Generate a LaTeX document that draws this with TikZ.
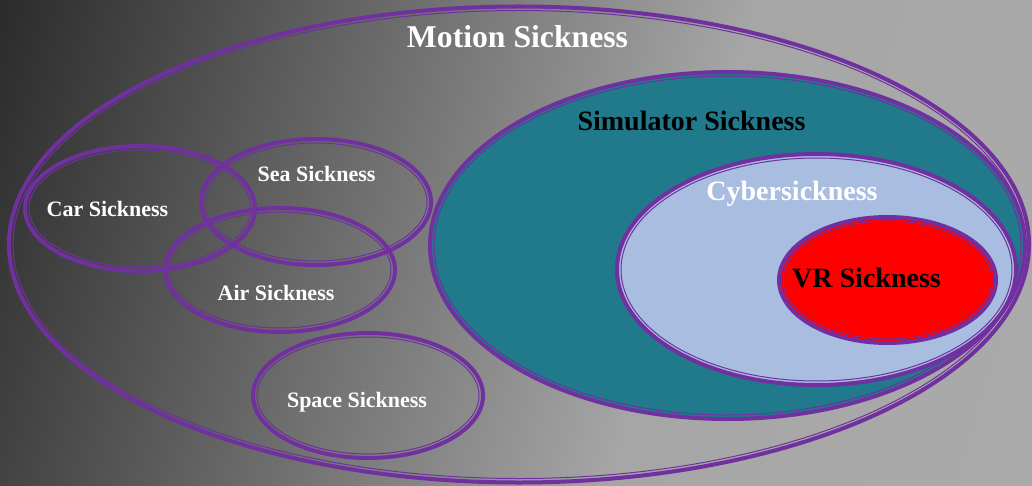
\documentclass[tikz,border=0pt]{standalone}
\usepackage{fontspec}
\setmainfont{Liberation Serif}
\usetikzlibrary{shapes.geometric}

\definecolor{ringviolet}{HTML}{7030A0}
\definecolor{simteal}{HTML}{217A8C}
\definecolor{cyberblue}{HTML}{A9BDE0}
\definecolor{vrred}{HTML}{FF0000}
\definecolor{bgdark}{HTML}{2B2B2B}
\definecolor{bgmid}{HTML}{666666}
\definecolor{bgpale}{HTML}{A6A6A6}
\definecolor{bglight}{HTML}{ABABAB}

% TikZ stretches the 25bp--75bp band of a shading over the filled path;
% here that band spans u = -50 .. 1200 of the tilted backdrop strip
\pgfdeclarehorizontalshading{bgshade}{100bp}{%
  color(0bp)=(bgdark); color(27bp)=(bgdark); color(41bp)=(bgmid);
  color(56bp)=(bgpale); color(75bp)=(bglight); color(100bp)=(bglight)}

\tikzset{
  ring/.style={ellipse, draw=ringviolet, line width=4pt, inner sep=0pt, outer sep=0pt},
  ringin/.style={draw=ringviolet, line width=1pt},
  lbl/.style={font=\bfseries, anchor=base, inner sep=0pt},
  small/.style={lbl, text=white, font=\bfseries\fontsize{22}{26}\selectfont},
  big/.style={lbl, font=\bfseries\fontsize{28}{33}\selectfont},
}

% #1 name, #2 x, #3 y, #4 outer x radius, #5 outer y radius, #6 fill
\newcommand\ringnode[6]{%
  \node[ring, fill=#6, minimum width={2*#4pt-4pt}, minimum height={2*#5pt-4pt}] (#1) at (#2,#3) {};
  \draw[ringin] (#1.center) ellipse [x radius={#4pt-6pt}, y radius={#5pt-6pt}];
}

\begin{document}
\begin{tikzpicture}[x=1pt, y=-1pt]
  \useasboundingbox (0,0) rectangle (1032,486);

  % backdrop: grey ramp, darkest at the upper left, tilted a little downwards
  \begin{scope}
    \clip (0,0) rectangle (1032,486);
    \begin{scope}[transform canvas={rotate around={-17:(0,0)}}]
      \shade[shading=bgshade] (-50,-400) rectangle (1200,600);
    \end{scope}
  \end{scope}

  % outer set and the four classic forms
  \ringnode{motion}{519}{244.5}{512}{240}{none}
  \ringnode{car}{140}{208.5}{117}{64.5}{none}
  \ringnode{sea}{316}{202}{117}{65}{none}
  \ringnode{air}{280}{270}{117}{64}{none}
  \ringnode{space}{368}{395.5}{117}{64.5}{none}

  % nested simulator / cyber / VR sets
  \ringnode{sim}{727.5}{245.5}{299.5}{175.5}{simteal}
  \ringnode{cyber}{816.5}{269.5}{201.5}{117.5}{cyberblue}
  \ringnode{vr}{887.5}{280}{110.5}{65}{vrred}

  \node[lbl, text=white, font=\bfseries\fontsize{31.7}{36}\selectfont] (lmotion) at (517.5,48) {Motion Sickness};
  \node[small] (lcar) at (107.5,217) {Car Sickness};
  \node[small] (lsea) at (316.5,182) {Sea Sickness};
  \node[small] (lair) at (276,300) {Air Sickness};
  \node[small] (lspace) at (357,407) {Space Sickness};
  \node[big, text=black] (lsim) at (691.5,131) {Simulator Sickness};
  \node[big, text=white] (lcyber) at (792,201) {Cybersickness};
  \node[big, text=black] (lvr) at (866.5,287) {VR Sickness};
\end{tikzpicture}
\end{document}
